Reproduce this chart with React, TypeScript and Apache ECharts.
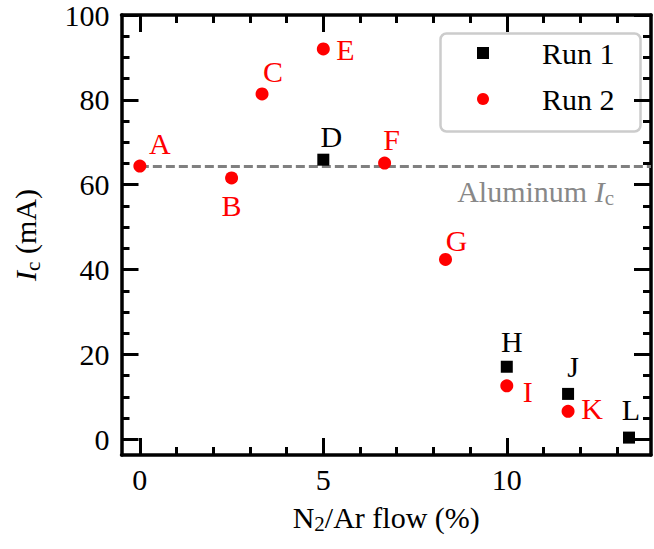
import React, { useEffect, useRef } from 'react';
import * as echarts from 'echarts';

// ---- data ----
const run1Flow = [5, 10, 11.67, 13.33];
const run1Ic = [65.9, 17.1, 10.7, 0.4];
const run1Names = ['D', 'H', 'J', 'L'];

const run2Flow = [0, 2.5, 3.33, 5, 6.67, 8.33, 10, 11.67];
const run2Ic = [64.4, 61.6, 81.4, 92.0, 65.1, 42.4, 12.6, 6.6];
const run2Names = ['A', 'B', 'C', 'E', 'F', 'G', 'I', 'K'];

const aluminumIc = 64.4;

const xMajorTicks = [0, 5, 10];
const xMinorTicks = [1, 2, 3, 4, 6, 7, 8, 9, 11, 12, 13];
const yMajorTicks = [0, 20, 40, 60, 80, 100];
const yMinorTicks = [5, 10, 15, 25, 30, 35, 45, 50, 55, 65, 70, 75, 85, 90, 95];

const X_MIN = -0.5;
const X_MAX = 13.93;
const Y_MIN = -3.7;
const Y_MAX = 100;

// ---- styles ----
const FONT = 'Liberation Serif';
const FS = 30;
const RED = '#ff0000';
const labelOffsets: Record<string, [number, number]> = {
  A: [20, -23], B: [0, 28], C: [11, -22], D: [8, -23], E: [22, 1], F: [7, -24],
  G: [11, -19], H: [5, -25], I: [21, 6], J: [5, -27], K: [24, -3], L: [2, -28],
};

const subRich = {
  n: { fontFamily: FONT, fontSize: FS, lineHeight: 30 },
  i: { fontFamily: FONT, fontSize: FS, fontStyle: 'italic', lineHeight: 30 },
  s: { fontFamily: FONT, fontSize: 21, lineHeight: 21, padding: [14, 0, 0, 0] },
};

function makeX(position: string, ticks: number[], len: number, withLine: boolean, withLabel: boolean) {
  return {
    type: 'value', min: X_MIN, max: X_MAX, position, gridIndex: 0,
    axisLine: { show: withLine, onZero: false, lineStyle: { color: '#000', width: 3.5 } },
    axisTick: { show: true, inside: true, length: len, customValues: ticks, lineStyle: { color: '#000', width: 3 } },
    axisLabel: withLabel
      ? { show: true, customValues: xMajorTicks, margin: 9, fontFamily: FONT, fontSize: FS, color: '#000' }
      : { show: false },
    splitLine: { show: false },
  } as any;
}

function makeY(position: string, ticks: number[], len: number, withLine: boolean, withLabel: boolean) {
  return {
    type: 'value', min: Y_MIN, max: Y_MAX, position, gridIndex: 0,
    axisLine: { show: withLine, onZero: false, lineStyle: { color: '#000', width: 3.5 } },
    axisTick: { show: true, inside: true, length: len, customValues: ticks, lineStyle: { color: '#000', width: 3 } },
    axisLabel: withLabel
      ? { show: true, customValues: yMajorTicks, margin: 12, fontFamily: FONT, fontSize: FS, color: '#000' }
      : { show: false },
    splitLine: { show: false },
  } as any;
}

function pointData(xs: number[], ys: number[], names: string[], color: string) {
  return xs.map((x, k) => ({
    name: names[k],
    value: [x, ys[k]],
    label: {
      show: true,
      formatter: names[k],
      position: 'inside',
      offset: labelOffsets[names[k]],
      align: 'center',
      verticalAlign: 'middle',
      color,
      fontFamily: FONT,
      fontSize: FS,
    },
  }));
}

export default function App() {
  const ref = useRef<HTMLDivElement>(null);
  useEffect(() => {
    if (!ref.current) return;
    const chart = echarts.init(ref.current, null, { renderer: 'svg' });
    const xAxisName = {
      name: '{n|N}{s|2}{n|/Ar flow (%)}',
      nameLocation: 'middle',
      nameGap: 47,
      nameTextStyle: { color: '#000', fontFamily: FONT, fontSize: FS, rich: subRich },
    };
    const yAxisName = {
      name: '{i|I}{s|c}{n| (mA)}',
      nameLocation: 'middle',
      nameGap: 81,
      nameTextStyle: { color: '#000', fontFamily: FONT, fontSize: FS, rich: subRich },
    };
    chart.setOption({
      animation: false,
      backgroundColor: '#fff',
      textStyle: { fontFamily: FONT },
      grid: { left: 121, right: 3, top: 15, bottom: 94, containLabel: false },
      xAxis: [
        { ...makeX('bottom', xMajorTicks, 17, true, true), ...xAxisName },
        makeX('bottom', xMinorTicks, 8, false, false),
        makeX('top', xMajorTicks, 17, true, false),
        makeX('top', xMinorTicks, 8, false, false),
      ],
      yAxis: [
        { ...makeY('left', yMajorTicks, 17, true, true), ...yAxisName },
        makeY('left', yMinorTicks, 8, false, false),
        makeY('right', yMajorTicks, 17, true, false),
        makeY('right', yMinorTicks, 8, false, false),
      ],
      legend: {
        data: ['Run 1', 'Run 2'],
        orient: 'vertical',
        left: 477,
        top: 38,
        itemWidth: 12,
        itemHeight: 12,
        itemGap: 16,
        padding: 0,
        z: 10,
        textStyle: { fontFamily: FONT, fontSize: FS, color: '#000', lineHeight: 30, padding: [0, 0, 0, 48] },
      },
      graphic: [
        {
          type: 'rect',
          left: 438,
          top: 31,
          shape: { width: 200, height: 98, r: 6 },
          style: { fill: 'none', stroke: '#cccccc', lineWidth: 2.5 },
          z: 0,
        },
      ],
      series: [
        {
          name: 'Run 1',
          type: 'scatter',
          symbol: 'rect',
          symbolSize: 12,
          itemStyle: { color: '#000', opacity: 1 },
          data: pointData(run1Flow, run1Ic, run1Names, '#000'),
          z: 3,
          markLine: {
            silent: true,
            symbol: ['none', 'none'],
            lineStyle: { type: [9, 4], color: '#808080', width: 3, opacity: 1 },
            label: {
              show: true,
              position: 'insideEndBottom',
              distance: [37, 10],
              formatter: '{n|Aluminum }{i|I}{s|c}',
              color: '#888888',
              rich: {
                n: { ...subRich.n, color: '#888888' },
                i: { ...subRich.i, color: '#888888' },
                s: { ...subRich.s, color: '#888888' },
              },
            },
            data: [[{ coord: [0, aluminumIc] }, { coord: [X_MAX, aluminumIc] }]],
            z: 1,
          },
        },
        {
          name: 'Run 2',
          type: 'scatter',
          symbol: 'circle',
          symbolSize: 13,
          itemStyle: { color: RED, opacity: 1 },
          data: pointData(run2Flow, run2Ic, run2Names, RED),
          z: 3,
        },
      ],
    } as any);
    return () => chart.dispose();
  }, []);
  return (
    <>
      <style>{`#chart-root svg text, #chart-root svg tspan { font-family: 'Liberation Serif', serif !important; }`}</style>
      <div
        id="chart-root"
        ref={ref}
        style={{ position: 'fixed', left: 0, top: 0, width: 654, height: 549, background: '#fff' }}
      />
    </>
  );
}
